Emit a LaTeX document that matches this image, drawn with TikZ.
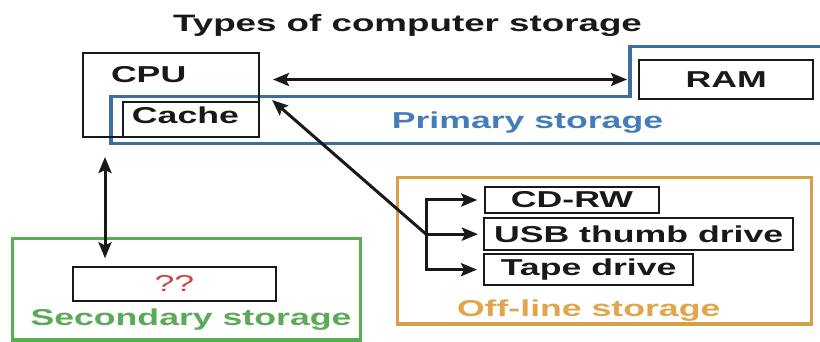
\documentclass[tikz,border=0pt]{standalone}
\usepackage{fontspec}
\setmainfont{Liberation Sans}
\usetikzlibrary{arrows.meta}
\definecolor{blueline}{RGB}{60,110,160}
\definecolor{bluetext}{RGB}{70,125,185}
\definecolor{greenline}{RGB}{85,175,80}
\definecolor{greentext}{RGB}{90,170,90}
\definecolor{orangeline}{RGB}{215,160,70}
\definecolor{orangetext}{RGB}{225,165,75}
\definecolor{qred}{RGB}{205,70,70}
\definecolor{ink}{RGB}{25,25,25}
\newcommand\sx[1]{\scalebox{1.55}[1]{#1}}
\tikzset{bigtip/.tip={Stealth[length=16pt,width=13pt,inset=3pt]}}
\begin{document}
\begin{tikzpicture}[x=1pt,y=-1pt,
  every node/.style={inner sep=0pt, outer sep=0pt, text=ink, font=\fontsize{23}{23}\selectfont\bfseries},
  box/.style={draw=ink, line width=2pt, anchor=north west},
  area/.style={line width=3.2pt, anchor=north west},
  conn/.style={draw=ink, line width=3pt, -bigtip},
  dconn/.style={draw=ink, line width=3pt, bigtip-bigtip}]
\useasboundingbox (0,0) rectangle (820,342);
\fill[white] (0,0) rectangle (820,342);
\clip (0,0) rectangle (820,342);

% title
\node[anchor=base, font=\fontsize{23.7}{23.7}\selectfont\bfseries] (title) at (407.5,32) {\sx{Types of computer storage}};

% storage areas
\draw[blueline, line width=3.2pt] (111,96.7) -- (630,96.7) -- (630,46.7) -- (830,46.7) -- (830,143.5) -- (111,143.5) -- cycle;
\node[area, draw=greenline, minimum width=348pt, minimum height=101.7pt] (sec) at (12.7,238.3) {};
\node[area, draw=orangeline, minimum width=414pt, minimum height=146.7pt] (off) at (397.3,177.3) {};

% boxes
\node[box, minimum width=176pt, minimum height=83.4pt] (cpu) at (83.3,53.3) {};
\node[box, minimum width=136.6pt, minimum height=34.4pt] (cache) at (122.7,102.3) {};
\node[box, minimum width=174pt, minimum height=39pt] (ram) at (639.3,60) {\sx{RAM}};
\node[box, minimum width=174pt, minimum height=26.6pt] (cd) at (485,186.7) {\sx{CD-RW}};
\node[box, minimum width=309.3pt, minimum height=31.7pt] (usb) at (484,218.3) {\sx{USB thumb drive}};
\node[box, minimum width=209.3pt, minimum height=30.7pt] (tape) at (484,254.3) {\sx{Tape drive}};
\node[box, minimum width=203.3pt, minimum height=34.3pt, text=qred] (q) at (72.7,266.7) {\sx{\mdseries ??}};

% labels
\node[anchor=base west] (cpuT) at (111,82.7) {\sx{CPU}};
\node[anchor=base] (cacheT) at (185.5,123.3) {\sx{Cache}};
\node[anchor=base, text=bluetext] (primT) at (527.5,128.3) {\sx{Primary storage}};
\node[anchor=base, text=greentext] (secT) at (191,325) {\sx{Secondary storage}};
\node[anchor=base west, text=orangetext] (offT) at (457,316) {\sx{Off-line storage}};

% connectors
\draw[dconn, shorten <=13.7pt, shorten >=12.3pt] (cpu.east |- ram.west) -- (ram.west);
\coordinate (vx) at (105,0);
\draw[dconn, shorten <=20.3pt, shorten >=8.4pt] (cpu.south -| vx) -- (q.north -| vx);
\path (usb.west) ++(-58,0) coordinate (j);
\coordinate (ct) at (272,100);
\draw[conn] (j) -- (ct);
\draw[conn, shorten >=7.7pt] (j) |- (cd.west);
\draw[conn, shorten >=6pt] (j) -- (usb.west);
\draw[conn, shorten >=7pt] (j) |- (tape.west);
\end{tikzpicture}
\end{document}
